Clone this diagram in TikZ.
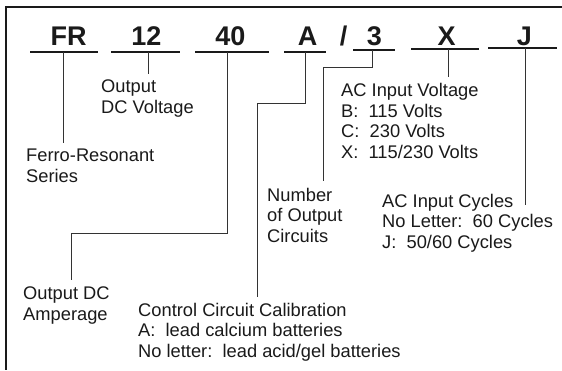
\documentclass[tikz,border=0pt]{standalone}
\usepackage{fontspec}
\setmainfont{Liberation Sans}
\definecolor{ink}{HTML}{1A1A1A}
\definecolor{linec}{HTML}{333333}
\begin{document}
\begin{tikzpicture}[x=1pt,y=-1pt,
  title/.style={font=\fontsize{27}{27}\selectfont\bfseries, inner sep=0pt, anchor=base, text=ink},
  lbl/.style={font=\fontsize{18.3}{20.6}\selectfont, inner sep=0pt, anchor=base west, align=left, text=ink},
  uline/.style={draw=ink, line width=1.2pt},
  conn/.style={draw=linec, line width=0.9pt},
  frame/.style={draw=ink, line width=1.3pt}]
\useasboundingbox (0,0) rectangle (562,370);
\fill[white] (0,0) rectangle (562,370);
% frame (open to the right and bottom)
\draw[frame] (562,7) -- (6,7) -- (6,370);

% model code
\node[title] (tFR) at (68.5,45) {FR};
\node[title] (t12) at (146.5,45) {12};
\node[title] (t40) at (230.5,45) {40};
\node[title] (tA) at (307.5,45) {A};
\node[title] (tSl) at (343.5,45) {/};
\node[title] (t3) at (374.5,45) {3};
\node[title] (tX) at (446.5,45) {X};
\node[title] (tJ) at (524.5,45) {J};

% underlines
\coordinate (uFRa) at (30,52);  \coordinate (uFRb) at (98,52);
\coordinate (u12a) at (111,52); \coordinate (u12b) at (180,52);
\coordinate (u40a) at (195,52); \coordinate (u40b) at (269,52);
\coordinate (uAa) at (284,52);  \coordinate (uAb) at (326,52);
\coordinate (u3a) at (353,50);  \coordinate (u3b) at (395,50);
\coordinate (uXa) at (411,49);  \coordinate (uXb) at (479,49);
\coordinate (uJa) at (488,48);  \coordinate (uJb) at (557,48);
\foreach \n in {FR,12,40,A,3,X,J}{\draw[uline] (u\n a) -- (u\n b);}

% labels (anchored at the baseline of their last line)
\node[lbl] (lSeries) at (26,182.5) {Ferro-Resonant\\Series};
\node[lbl] (lVolt) at (101,113) {Output\\DC Voltage};
\node[lbl] (lAmp) at (23,320) {Output DC\\Amperage};
\node[lbl] (lCal) at (138,357.5) {Control Circuit Calibration\\A:~~lead calcium batteries\\No letter:~~lead acid/gel batteries};
\node[lbl] (lNum) at (267,242.5) {Number\\of Output\\Circuits};
\node[lbl] (lACV) at (341,158.5) {AC Input Voltage\\B:~~115 Volts\\C:~~230 Volts\\X:~~115/230 Volts};
\node[lbl] (lACC) at (382,248.5) {AC Input Cycles\\No Letter:~~60 Cycles\\J:~~50/60 Cycles};

% connectors
\coordinate (sFR) at (63,52);  \coordinate (eFR) at (63,143);
\coordinate (s12) at (148,52); \coordinate (e12) at (148,74);
\coordinate (s40) at (227,52); \coordinate (b40) at (71,233);  \coordinate (e40) at (71,280);
\coordinate (sA) at (305,52);  \coordinate (bA) at (257,103);  \coordinate (eA) at (257,297);
\coordinate (s3) at (372,50);  \coordinate (b3) at (323,67);   \coordinate (e3) at (323,181);
\coordinate (sX) at (448,49);  \coordinate (eX) at (448,77);
\coordinate (sJ) at (525,48);  \coordinate (eJ) at (525,205);
\draw[conn] (sFR) -- (eFR);
\draw[conn] (s12) -- (e12);
\draw[conn] (s40) |- (b40) -- (e40);
\draw[conn] (sA) |- (bA) -- (eA);
\draw[conn] (s3) |- (b3) -- (e3);
\draw[conn] (sX) -- (eX);
\draw[conn] (sJ) -- (eJ);
\end{tikzpicture}
\end{document}
